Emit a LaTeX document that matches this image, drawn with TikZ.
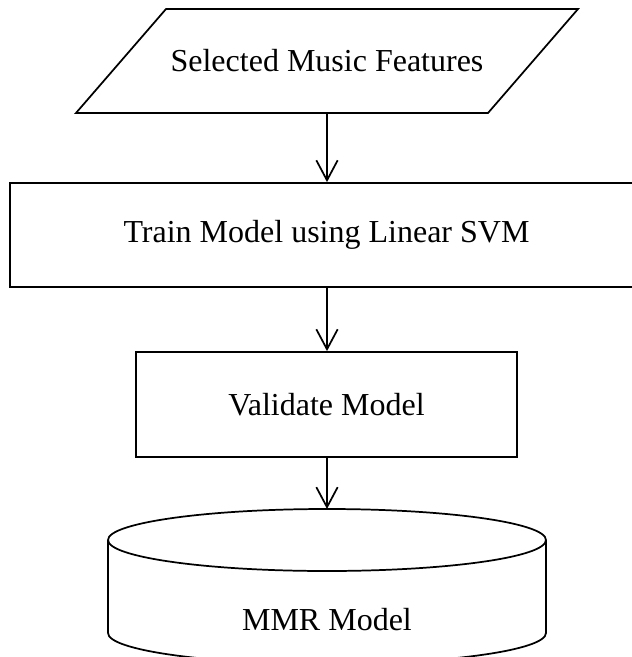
\documentclass[tikz,border=0pt]{standalone}
\usepackage{fontspec}
\setmainfont{Liberation Serif}
\usetikzlibrary{arrows.meta}
\begin{document}
\begin{tikzpicture}[x=0.75pt,y=-0.75pt,line width=1.3pt,
    font=\fontsize{24pt}{28pt}\selectfont,
    >={Straight Barb[length=15pt,width=16pt]}]
      \useasboundingbox (0,0) rectangle (632,657);
      \clip (0,0) rectangle (632,657);
      % input
      \draw (76,113) -- (166,9) -- (578,9) -- (488,113) -- cycle;
      \node[minimum height=78pt] (feat) at (327,61) {Selected Music Features};
      \node[draw,rectangle,minimum width=474.75pt,minimum height=78pt]
        (train) at (326.5,235) {Train Model using Linear SVM};
      \node[draw,rectangle,minimum width=285.75pt,minimum height=78.75pt]
        (valid) at (326.5,404.5) {Validate Model};
      % database
      \draw (327,540) ellipse [x radius=219,y radius=31];
      \draw (108,540) -- (108,633) arc[start angle=180,end angle=0,x radius=219,y radius=31] -- (546,540);
      \coordinate (dbtop) at (327,509);
      \node (mmr) at (327,620) {MMR Model};
      \begin{scope}[->]
        \draw (feat.south) to (feat.south |- train.north);
        \draw (train.south -| feat.south) to (valid.north -| feat.south);
        \draw (valid.south -| dbtop) to (dbtop);
      \end{scope}
    \end{tikzpicture}
\end{document}
